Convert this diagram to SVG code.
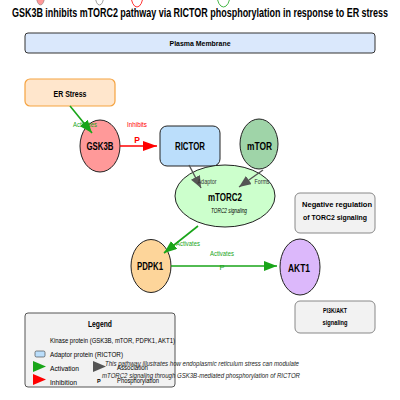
<svg xmlns="http://www.w3.org/2000/svg" width="400" height="400" viewBox="0 0 400 400">
<defs>
<style>
text{font-family:"Liberation Sans",Arial,sans-serif;fill:#000}
.b{font-weight:bold}
.nl{font-weight:bold;font-size:10px;text-anchor:middle}
.el{font-size:6.3px;text-anchor:middle}
.lg{font-size:6.5px}
.box{fill:#f2f2f2;stroke:#888;stroke-width:1}
.node{stroke:#222;stroke-width:1}
.ga{stroke:#19a519;stroke-width:1.6;fill:none}
.ra{stroke:#ff0000;stroke-width:1.6;fill:none}
.ka{stroke:#555;stroke-width:1.4;fill:none}
</style>
<marker id="mg" viewBox="0 0 13 10" refX="13" refY="5" markerWidth="13" markerHeight="10" markerUnits="userSpaceOnUse" orient="auto"><path d="M0,0L13,5L0,10z" fill="#19a519"/></marker>
<marker id="mr" viewBox="0 0 14 10" refX="14" refY="5" markerWidth="14" markerHeight="10" markerUnits="userSpaceOnUse" orient="auto"><path d="M0,0L14,5L0,10z" fill="#ff0000"/></marker>
<marker id="mk" viewBox="0 0 12 10" refX="12" refY="5" markerWidth="12" markerHeight="10" markerUnits="userSpaceOnUse" orient="auto"><path d="M0,0L12,5L0,10z" fill="#555"/></marker>
</defs>
<rect width="400" height="400" fill="#fff"/>
<g id="topmarks">
<ellipse cx="40.5" cy="-3" rx="4" ry="8" fill="#ff9999" stroke="#777" stroke-width="0.5"/>
<ellipse cx="99.5" cy="-3" rx="4" ry="8" fill="#fff" stroke="#777" stroke-width="0.7"/>
<ellipse cx="137" cy="-5" rx="6" ry="12" fill="#fff" stroke="#ff0000" stroke-width="0.8"/>
<ellipse cx="223.5" cy="-5" rx="6.5" ry="12" fill="#fff" stroke="#19a519" stroke-width="0.8"/>
</g>
<text x="200" y="17" class="b" font-size="13" text-anchor="middle" textLength="376" lengthAdjust="spacingAndGlyphs">GSK3B inhibits mTORC2 pathway via RICTOR phosphorylation in response to ER stress</text>
<g id="membrane">
<rect x="25" y="33" width="350" height="20" rx="3" fill="#dae8fc" stroke="#333" stroke-width="1"/>
<text x="200" y="46" class="b" font-size="7.5" text-anchor="middle" textLength="61" lengthAdjust="spacingAndGlyphs">Plasma Membrane</text>
</g>
<g id="er-stress">
<rect x="25" y="79" width="90" height="27" rx="5" fill="#ffe6cc" stroke="#f5a340" stroke-width="1.2"/>
<text x="70" y="97" class="nl" font-size="8.5" style="font-size:8.5px" textLength="33" lengthAdjust="spacingAndGlyphs">ER Stress</text>
</g>
<g id="gsk3b">
<ellipse cx="100" cy="146" rx="20" ry="26" fill="#ff9999" class="node"/>
<text x="100" y="150" class="nl" textLength="27" lengthAdjust="spacingAndGlyphs">GSK3B</text>
</g>
<g id="rictor">
<rect x="160" y="126" width="60" height="40" rx="7" fill="#bbdefb" class="node"/>
<text x="190" y="150" class="nl" textLength="30" lengthAdjust="spacingAndGlyphs">RICTOR</text>
</g>
<g id="mtor">
<ellipse cx="259" cy="144" rx="19" ry="25" fill="#9fd4a8" class="node"/>
<text x="259.5" y="150" class="nl" textLength="25" lengthAdjust="spacingAndGlyphs">mTOR</text>
</g>
<g id="mtorc2">
<ellipse cx="225" cy="196" rx="50" ry="31" fill="#ccffcc" class="node"/>
<text x="225" y="201" class="nl" textLength="34" lengthAdjust="spacingAndGlyphs">mTORC2</text>
<text x="229" y="212.5" font-size="7" font-style="italic" text-anchor="middle" textLength="36" lengthAdjust="spacingAndGlyphs">TORC2 signaling</text>
</g>
<g id="neg-reg">
<rect x="295" y="193" width="80" height="40" rx="5" class="box"/>
<text x="337" y="207" class="b" font-size="7.5" text-anchor="middle" textLength="70" lengthAdjust="spacingAndGlyphs">Negative regulation</text>
<text x="335" y="219.5" class="b" font-size="7.5" text-anchor="middle" textLength="64" lengthAdjust="spacingAndGlyphs">of TORC2 signaling</text>
</g>
<g id="pdpk1">
<ellipse cx="151" cy="266" rx="20" ry="26.5" fill="#fdd59a" class="node"/>
<text x="150" y="270" class="nl" textLength="26" lengthAdjust="spacingAndGlyphs">PDPK1</text>
</g>
<g id="akt1">
<ellipse cx="300" cy="267" rx="20" ry="28" fill="#dcb8fb" class="node"/>
<text x="299" y="271.5" class="nl" textLength="22" lengthAdjust="spacingAndGlyphs">AKT1</text>
</g>
<g id="pi3k">
<rect x="295" y="301" width="80" height="32" rx="5" class="box"/>
<text x="335" y="312.5" class="b" font-size="7.5" text-anchor="middle" textLength="24" lengthAdjust="spacingAndGlyphs">PI3K/AKT</text>
<text x="335" y="325" class="b" font-size="7.5" text-anchor="middle" textLength="25" lengthAdjust="spacingAndGlyphs">signaling</text>
</g>
<g id="connectors">
<line x1="70" y1="106" x2="92" y2="133" class="ga" marker-end="url(#mg)"/>
<text x="85" y="126.5" class="el" style="fill:#19a519" textLength="24" lengthAdjust="spacingAndGlyphs">Activates</text>
<line x1="120" y1="146" x2="157" y2="146" class="ra" marker-end="url(#mr)"/>
<text x="137" y="126.5" class="el" style="fill:#ff0000" textLength="20" lengthAdjust="spacingAndGlyphs">Inhibits</text>
<text x="137" y="142.5" font-size="8.5" class="b" text-anchor="middle" style="fill:#ff0000">P</text>
<line x1="189" y1="165" x2="201" y2="188" class="ka" marker-end="url(#mk)"/>
<text x="207" y="184" class="el" style="fill:#333" textLength="19" lengthAdjust="spacingAndGlyphs">Adaptor</text>
<line x1="263" y1="170" x2="239" y2="187" class="ka" marker-end="url(#mk)"/>
<text x="262" y="184" class="el" style="fill:#333" textLength="15" lengthAdjust="spacingAndGlyphs">Forms</text>
<line x1="198" y1="226" x2="164" y2="253" class="ga" marker-end="url(#mg)"/>
<text x="188" y="246" class="el" style="fill:#19a519" textLength="24" lengthAdjust="spacingAndGlyphs">Activates</text>
<line x1="171" y1="266" x2="277" y2="266" class="ga" marker-end="url(#mg)"/>
<text x="222" y="256" class="el" style="fill:#19a519" textLength="24" lengthAdjust="spacingAndGlyphs">Activates</text>
<text x="222" y="269.5" font-size="7.5" text-anchor="middle" style="fill:#19a519">P</text>
</g>
<g id="legend">
<rect x="25" y="313" width="150" height="74" rx="3" fill="#f2f2f2" stroke="#555" stroke-width="1"/>
<text x="100" y="326.5" class="b" font-size="9" text-anchor="middle" textLength="24" lengthAdjust="spacingAndGlyphs">Legend</text>
<text x="50" y="343" class="lg" textLength="125" lengthAdjust="spacingAndGlyphs">Kinase protein (GSK3B, mTOR, PDPK1, AKT1)</text>
<rect x="35" y="351" width="10" height="6" rx="1.5" fill="#bbdefb" stroke="#333" stroke-width="0.6"/>
<text x="50" y="357" class="lg" textLength="73" lengthAdjust="spacingAndGlyphs">Adaptor protein (RICTOR)</text>
<path d="M33,361L46,366.5L33,372z" fill="#19a519"/>
<text x="50" y="371" class="lg" textLength="29" lengthAdjust="spacingAndGlyphs">Activation</text>
<path d="M33,374L46,379.5L33,385z" fill="#ff0000"/>
<text x="50" y="385" class="lg" textLength="27" lengthAdjust="spacingAndGlyphs">Inhibition</text>
<path d="M93,361L106,366.5L93,372z" fill="#555"/>
<text x="117" y="369.5" class="lg" textLength="31" lengthAdjust="spacingAndGlyphs">Association</text>
<text x="97" y="383" font-size="5.5" class="b">P</text>
<text x="117" y="383" class="lg" textLength="42" lengthAdjust="spacingAndGlyphs">Phosphorylation</text>
</g>
<g id="footnote">
<text x="105" y="365.5" font-size="6.5" font-style="italic" textLength="194" lengthAdjust="spacingAndGlyphs" style="fill:#222">This pathway illustrates how endoplasmic reticulum stress can modulate</text>
<text x="102" y="378" font-size="6.5" font-style="italic" textLength="198" lengthAdjust="spacingAndGlyphs" style="fill:#222">mTORC2 signaling through GSK3B-mediated phosphorylation of RICTOR</text>
</g>
</svg>
